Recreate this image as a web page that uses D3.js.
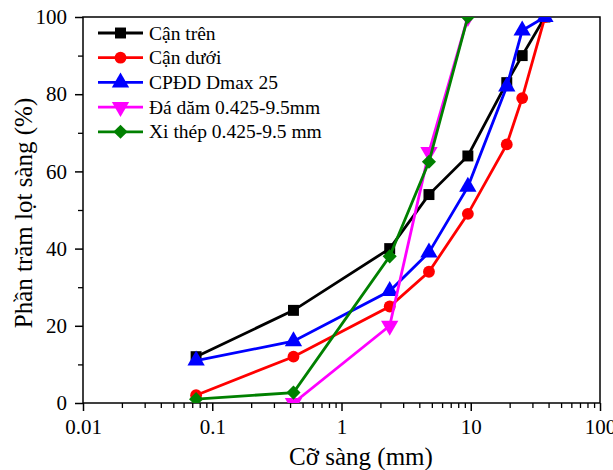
<!DOCTYPE html>
<html>
<head>
<meta charset="utf-8">
<script src="https://cdn.jsdelivr.net/npm/d3@7"></script>
<style>
  body { margin: 0; background: #fff; }
  svg { display: block; font-family: "Liberation Serif", "Times New Roman", serif; }
</style>
</head>
<body>
<svg width="613" height="470"></svg>
<script>
// sieve sizes (mm) and passing percentages
const sieves = [0.075, 0.425, 2.36, 4.75, 9.5, 19, 25, 37.5];
const upperBound = [12, 24, 40, 54, 64, 83, 90, 100];
const lowerBound = [2, 12, 25, 34, 49, 67, 79, 100];
const cpddDmax25 = [11, 16, 29, 39, 56, 82, 96.5, 100];
const daDamSieves = [0.425, 2.36, 4.75, 9.5];
const daDam = [0, 20, 65, 100];
const xiThepSieves = [0.075, 0.425, 2.36, 4.75, 9.5];
const xiThep = [1, 2.7, 38, 62.5, 100];

const xTicks = [0.01, 0.1, 1, 10, 100];
const xTickLabels = ["0.01", "0.1", "1", "10", "100"];
const yTicks = [0, 20, 40, 60, 80, 100];

const series = [
    { name: "Cận trên", xs: sieves, ys: upperBound, color: "#000000", symbol: d3.symbolSquare, size: 120, rot: 0 },
    { name: "Cận dưới", xs: sieves, ys: lowerBound, color: "#ff0000", symbol: d3.symbolCircle, size: 110, rot: 0 },
    { name: "CPĐD Dmax 25", xs: sieves, ys: cpddDmax25, color: "#0000ff", symbol: d3.symbolTriangle, size: 130, rot: 0 },
    { name: "Đá dăm 0.425-9.5mm", xs: daDamSieves, ys: daDam, color: "#ff00ff", symbol: d3.symbolTriangle, size: 130, rot: 180 },
    { name: "Xi thép 0.425-9.5 mm", xs: xiThepSieves, ys: xiThep, color: "#008000", symbol: d3.symbolSquare, size: 100, rot: 45 }
];

const plotLeft = 83, plotRight = 600, plotTop = 17, plotBottom = 403;

const svg = d3.select("svg");

const x = d3.scaleLog().domain([0.01, 100]).range([plotLeft, plotRight]);
const y = d3.scaleLinear().domain([0, 100]).range([plotBottom, plotTop]);

svg.append("defs").append("clipPath")
    .attr("id", "plotClip")
    .append("rect")
    .attr("x", plotLeft)
    .attr("y", plotTop)
    .attr("width", plotRight - plotLeft)
    .attr("height", plotBottom - plotTop);

// x axis: major + minor ticks
const xMinor = [];
for (let e = -2; e < 2; e++) {
    for (let k = 2; k <= 9; k++) xMinor.push(k * Math.pow(10, e));
}

svg.append("g")
    .attr("transform", `translate(0,${plotBottom})`)
    .call(d3.axisBottom(x).tickValues(xMinor).tickSize(5).tickFormat(""))
    .call(g => g.select(".domain").remove())
    .selectAll("line").attr("stroke-width", 1.3);

svg.append("g")
    .attr("transform", `translate(0,${plotBottom})`)
    .call(d3.axisBottom(x).tickValues(xTicks).tickSize(8).tickPadding(8)
        .tickFormat((d, i) => xTickLabels[i]))
    .call(g => g.select(".domain").remove())
    .call(g => g.selectAll("line").attr("stroke-width", 1.5))
    .call(g => g.selectAll("text").attr("font-size", 21).attr("fill", "#000")
        .attr("font-family", "Liberation Serif, Times New Roman, serif"));

// y axis
const yMinor = d3.range(10, 100, 20);
svg.append("g")
    .attr("transform", `translate(${plotLeft},0)`)
    .call(d3.axisLeft(y).tickValues(yMinor).tickSize(5).tickFormat(""))
    .call(g => g.select(".domain").remove())
    .selectAll("line").attr("stroke-width", 1.3);

svg.append("g")
    .attr("transform", `translate(${plotLeft},0)`)
    .call(d3.axisLeft(y).tickValues(yTicks).tickSize(8).tickPadding(8))
    .call(g => g.select(".domain").remove())
    .call(g => g.selectAll("line").attr("stroke-width", 1.5))
    .call(g => g.selectAll("text").attr("font-size", 21).attr("fill", "#000")
        .attr("font-family", "Liberation Serif, Times New Roman, serif"));

// frame
svg.append("rect")
    .attr("x", plotLeft)
    .attr("y", plotTop)
    .attr("width", plotRight - plotLeft)
    .attr("height", plotBottom - plotTop)
    .attr("fill", "none")
    .attr("stroke", "#000")
    .attr("stroke-width", 1.5);

// series
const plot = svg.append("g").attr("clip-path", "url(#plotClip)");
const line = d3.line().x(d => x(d[0])).y(d => y(d[1]));

series.forEach(s => {
    const pts = s.xs.map((v, i) => [v, s.ys[i]]);
    plot.append("path")
        .attr("d", line(pts))
        .attr("fill", "none")
        .attr("stroke", s.color)
        .attr("stroke-width", 2.8);
    plot.append("g")
        .selectAll("path")
        .data(pts)
        .enter().append("path")
        .attr("d", d3.symbol().type(s.symbol).size(s.size))
        .attr("transform", d => `translate(${x(d[0])},${y(d[1])}) rotate(${s.rot})`)
        .attr("fill", s.color);
});

// legend
const legend = svg.append("g").attr("transform", "translate(98,33)");
series.forEach((s, i) => {
    const row = legend.append("g").attr("transform", `translate(0,${i * 24.7})`);
    row.append("line")
        .attr("x1", 0).attr("x2", 45)
        .attr("stroke", s.color)
        .attr("stroke-width", 2.8);
    row.append("path")
        .attr("d", d3.symbol().type(s.symbol).size(s.size))
        .attr("transform", `translate(22.5,0) rotate(${s.rot})`)
        .attr("fill", s.color);
    row.append("text")
        .attr("x", 51)
        .attr("y", 6.5)
        .attr("font-size", 19.5)
        .text(s.name);
});

// axis titles
svg.append("text")
    .attr("x", 361)
    .attr("y", 465)
    .attr("text-anchor", "middle")
    .attr("font-size", 25)
    .text("Cỡ sàng (mm)");

svg.append("text")
    .attr("transform", "translate(32,213) rotate(-90)")
    .attr("text-anchor", "middle")
    .attr("font-size", 25)
    .text("Phần trăm lọt sàng (%)");
</script>
</body>
</html>
